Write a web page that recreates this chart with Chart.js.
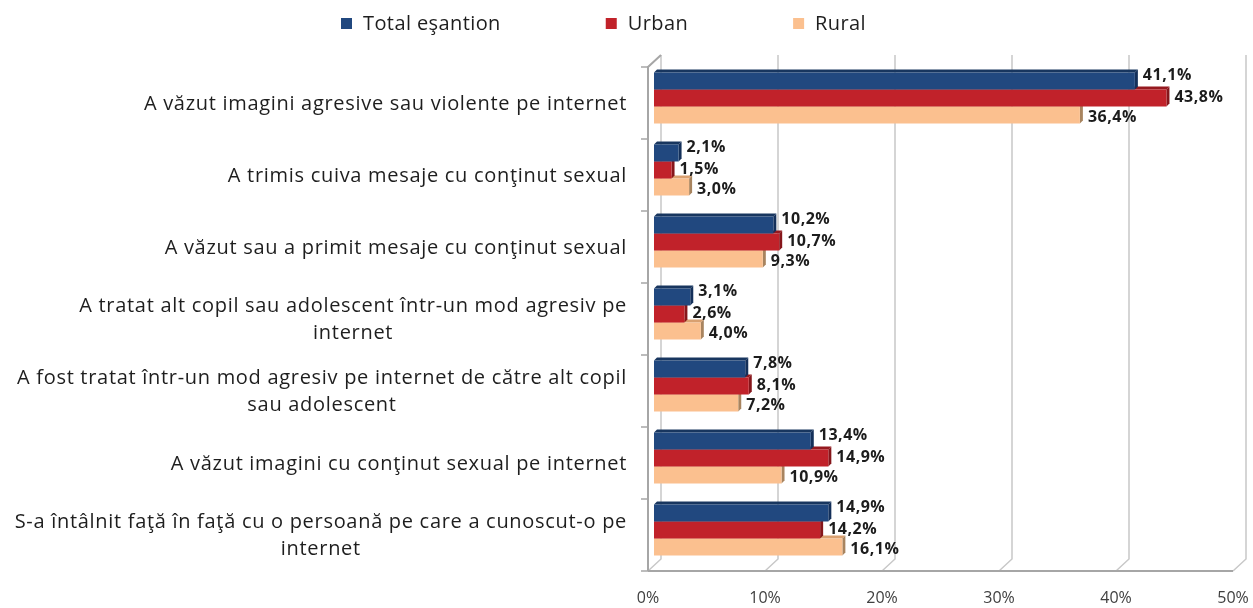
<!DOCTYPE html>
<html>
<head>
<meta charset="utf-8">
<script src="https://cdn.jsdelivr.net/npm/chart.js@4.4.1/dist/chart.umd.min.js"></script>
<style>
  html, body { margin: 0; padding: 0; background: #fff; }
  #chart { display: block; }
</style>
</head>
<body>
<canvas id="chart" width="1253" height="608"></canvas>
<script>
const categories = [
    ['A văzut imagini agresive sau violente pe internet'],
    ['A trimis cuiva mesaje cu conţinut sexual'],
    ['A văzut sau a primit mesaje cu conţinut sexual'],
    ['A tratat alt copil sau adolescent într-un mod agresiv pe', 'internet'],
    ['A fost tratat într-un mod agresiv pe internet de către alt copil', 'sau adolescent'],
    ['A văzut imagini cu conţinut sexual pe internet'],
    ['S-a întâlnit faţă în faţă cu o persoană pe care a cunoscut-o pe', 'internet']
];
const seriesNames = ['Total eşantion', 'Urban', 'Rural'];
const totalValues = [41.1, 2.1, 10.2, 3.1, 7.8, 13.4, 14.9];
const urbanValues = [43.8, 1.5, 10.7, 2.6, 8.1, 14.9, 14.2];
const ruralValues = [36.4, 3.0, 9.3, 4.0, 7.2, 10.9, 16.1];
const xTicks = [0, 10, 20, 30, 40, 50];

const faceColors = ['#21487f', '#c1222a', '#fbc08f'];
const sideColors = ['#14305a', '#86161b', '#a8845f'];
const topColors = ['#18365f', '#95191f', '#d9a070'];

const FONT = '"Open Sans", "Liberation Sans", sans-serif';
const WALL = {dx: 13, dy: -12};   // depth of the back wall
const BAR = {dx: 6, dy: -5};      // bars sit halfway into the box
const SIDE = 3;                    // thickness of the bar end faces

const fmt = v => v.toFixed(1).replace('.', ',') + '%';

const depth3d = {
    id: 'depth3d',
    beforeDatasetsDraw(chart) {
        const {ctx, chartArea: a} = chart;
        const x = chart.scales.x;
        ctx.save();
        // back wall grid + floor diagonals
        ctx.strokeStyle = '#c8c8c8';
        ctx.lineWidth = 1.5;
        xTicks.forEach(t => {
            const fx = x.getPixelForValue(t);
            ctx.beginPath();
            ctx.moveTo(fx + WALL.dx, a.top + WALL.dy);
            ctx.lineTo(fx + WALL.dx, a.bottom + WALL.dy);
            ctx.lineTo(fx, a.bottom);
            ctx.stroke();
        });
        // floor front edge
        ctx.strokeStyle = '#a6a6a6';
        ctx.lineWidth = 2;
        ctx.beginPath();
        ctx.moveTo(a.left, a.bottom);
        ctx.lineTo(a.right, a.bottom);
        ctx.stroke();
        // left wall
        ctx.beginPath();
        ctx.moveTo(a.left + WALL.dx, a.top + WALL.dy);
        ctx.lineTo(a.left, a.top);
        ctx.lineTo(a.left, a.bottom);
        ctx.stroke();
        ctx.lineWidth = 1.5;
        const step = (a.bottom - a.top) / categories.length;
        for (let i = 0; i <= categories.length; i++) {
            const y = a.top + i * step;
            ctx.beginPath();
            ctx.moveTo(a.left - 7, y);
            ctx.lineTo(a.left, y);
            ctx.stroke();
        }
        ctx.restore();

        // bars are pushed back into the box; the matching restore is in afterDatasetsDraw
        ctx.save();
        ctx.translate(BAR.dx, BAR.dy);
        for (let d = chart.data.datasets.length - 1; d >= 0; d--) {
            chart.getDatasetMeta(d).data.forEach(bar => {
                const top = bar.y - bar.height / 2;
                const bot = bar.y + bar.height / 2;
                ctx.fillStyle = topColors[d];
                ctx.beginPath();
                ctx.moveTo(bar.base, top);
                ctx.lineTo(bar.base + SIDE, top - SIDE);
                ctx.lineTo(bar.x + SIDE, top - SIDE);
                ctx.lineTo(bar.x, top);
                ctx.closePath();
                ctx.fill();
                ctx.fillStyle = sideColors[d];
                ctx.beginPath();
                ctx.moveTo(bar.x, top);
                ctx.lineTo(bar.x + SIDE, top - SIDE);
                ctx.lineTo(bar.x + SIDE, bot - SIDE);
                ctx.lineTo(bar.x, bot);
                ctx.closePath();
                ctx.fill();
            });
        }
    },
    afterDatasetsDraw(chart) {
        const {ctx} = chart;
        const nudge = [-6, -1, 2];
        ctx.font = 'bold 16px ' + FONT;
        ctx.letterSpacing = '0.5px';
        ctx.fillStyle = '#1c1c1c';
        ctx.textAlign = 'left';
        ctx.textBaseline = 'middle';
        chart.data.datasets.forEach((ds, d) => {
            chart.getDatasetMeta(d).data.forEach((bar, i) => {
                ctx.fillText(fmt(ds.data[i]), bar.x + SIDE + 5, bar.y + nudge[d]);
            });
        });
        ctx.letterSpacing = '0px';
        ctx.restore();
    },
    afterDraw(chart) {
        const {ctx, chartArea: a} = chart;
        const y = chart.scales.y;
        ctx.save();
        // category labels: right-aligned blocks, lines centred within a block
        ctx.font = '20px ' + FONT;
        ctx.letterSpacing = '0.7px';
        ctx.fillStyle = '#1e1e1e';
        ctx.textAlign = 'center';
        ctx.textBaseline = 'middle';
        const lineH = 27;
        const right = a.left - 21;
        categories.forEach((lines, i) => {
            const w = Math.max(...lines.map(l => ctx.measureText(l).width));
            const cy = y.getPixelForValue(i) + 1;
            const y0 = cy - (lines.length - 1) * lineH / 2;
            lines.forEach((l, k) => ctx.fillText(l, right - w / 2, y0 + k * lineH));
        });

        // legend
        ctx.letterSpacing = '0.4px';
        ctx.textAlign = 'left';
        let lx = 341;
        const ly = 24;
        seriesNames.forEach((name, d) => {
            ctx.fillStyle = faceColors[d];
            ctx.fillRect(lx, ly - 6, 11, 11);
            ctx.fillStyle = '#1e1e1e';
            ctx.fillText(name, lx + 22, ly);
            lx += 22 + ctx.measureText(name).width + 105;
        });
        ctx.letterSpacing = '0px';
        ctx.restore();
    }
};

const datasets = [totalValues, urbanValues, ruralValues].map((values, d) => ({
    label: seriesNames[d],
    data: values,
    backgroundColor: faceColors[d],
    borderWidth: 0,
    clip: false
}));

new Chart(document.getElementById('chart').getContext('2d'), {
    type: 'bar',
    data: {labels: categories, datasets: datasets},
    options: {
        indexAxis: 'y',
        responsive: false,
        animation: false,
        devicePixelRatio: 1,
        layout: {padding: {left: 648, right: 20, top: 67, bottom: 0}},
        datasets: {bar: {categoryPercentage: 0.71, barPercentage: 1}},
        plugins: {legend: {display: false}, tooltip: {enabled: false}},
        scales: {
            y: {display: false},
            x: {
                min: 0,
                max: 50,
                afterFit(scale) {
                    scale.height = 37;
                    // layout padding already leaves room for the end labels
                    scale.paddingLeft = 0;
                    scale.paddingRight = 0;
                },
                afterBuildTicks(scale) { scale.ticks = xTicks.map(v => ({value: v})); },
                grid: {display: false},
                border: {display: false},
                ticks: {
                    padding: 10,
                    color: '#404040',
                    font: {family: FONT, size: 16},
                    callback: v => v + '%'
                }
            }
        }
    },
    plugins: [depth3d]
});
</script>
</body>
</html>
